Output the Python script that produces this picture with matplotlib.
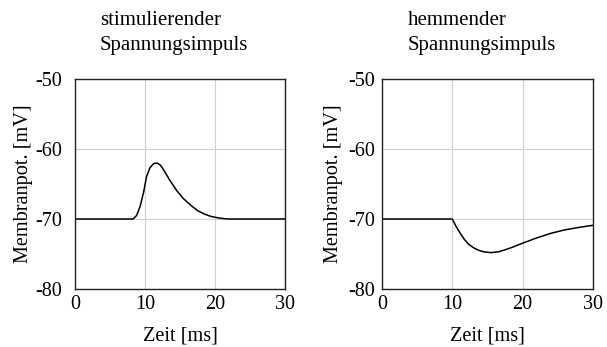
import matplotlib
matplotlib.use("Agg")
import matplotlib.pyplot as plt

plt.rcParams['font.family'] = ['Liberation Serif', 'DejaVu Serif']

# Data
t_stim = [0, 8.3, 8.8, 9.3, 9.8, 10.2, 10.7, 11.2, 11.7, 12.2, 12.8, 13.5, 14.5, 15.5, 16.5, 17.5, 18.5, 19.5, 20.5, 21.5, 22, 30]
v_stim = [-70, -70, -69.5, -68.2, -66.2, -64.0, -62.7, -62.1, -62.0, -62.3, -63.2, -64.4, -65.9, -67.1, -68.0, -68.8, -69.3, -69.65, -69.85, -69.97, -70, -70]

t_hemm = [0, 10, 10.5, 11.1, 11.7, 12.3, 13.0, 13.7, 14.5, 15.5, 16.5, 17.5, 18.5, 20, 22, 24, 26, 28, 30]
v_hemm = [-70, -70, -71.0, -72.0, -72.9, -73.6, -74.1, -74.45, -74.7, -74.8, -74.7, -74.4, -74.05, -73.45, -72.7, -72.05, -71.55, -71.2, -70.9]

titles = ["stimulierender\nSpannungsimpuls", "hemmender\nSpannungsimpuls"]
x_ticks = [0, 10, 20, 30]
y_ticks = [-80, -70, -60, -50]
xlabel = "Zeit [ms]"
ylabel = "Membranpot. [mV]"

fig = plt.figure(figsize=(6.07, 3.47), dpi=100)
W, H = 607, 347
boxes = [(75, 79, 285, 289), (382, 79, 593, 289)]
title_x = [100, 408]
ypads = [9, 5]
ylab_off = [42, 39]
series = [(t_stim, v_stim), (t_hemm, v_hemm)]

for (x0, y0, x1, y1), tx, yp, yo, (t, v), ttl in zip(boxes, title_x, ypads, ylab_off, series, titles):
    ax = fig.add_axes([x0 / W, 1 - y1 / H, (x1 - x0) / W, (y1 - y0) / H])
    ax.plot(t, v, color='black', lw=1.1)
    ax.set_xlim(0, 30)
    ax.set_ylim(-80, -50)
    ax.set_xticks(x_ticks)
    ax.set_yticks(y_ticks)
    ax.set_xticklabels([str(x) for x in x_ticks])
    ax.set_yticklabels([str(y) for y in y_ticks])
    ax.grid(True, color='#d0d0d0', lw=0.8)
    ax.set_axisbelow(True)
    ax.tick_params(length=0, labelsize=14.5)
    ax.tick_params(axis='y', pad=yp)
    ax.tick_params(axis='x', pad=4.5)
    for s in ax.spines.values():
        s.set_linewidth(1.0)
        s.set_color('#222222')
    w = x1 - x0
    h = y1 - y0
    ax.set_xlabel(xlabel, fontsize=14.6)
    ax.xaxis.set_label_coords(0.5, -37 / h)
    ax.set_ylabel(ylabel, fontsize=14.6)
    ax.yaxis.set_label_coords(-yo / w, 0.5)
    fig.text(tx / W, 1 - 11 / H, ttl, fontsize=15, ha='left', va='top', linespacing=1.4)

fig.savefig("out.png", dpi=100)
